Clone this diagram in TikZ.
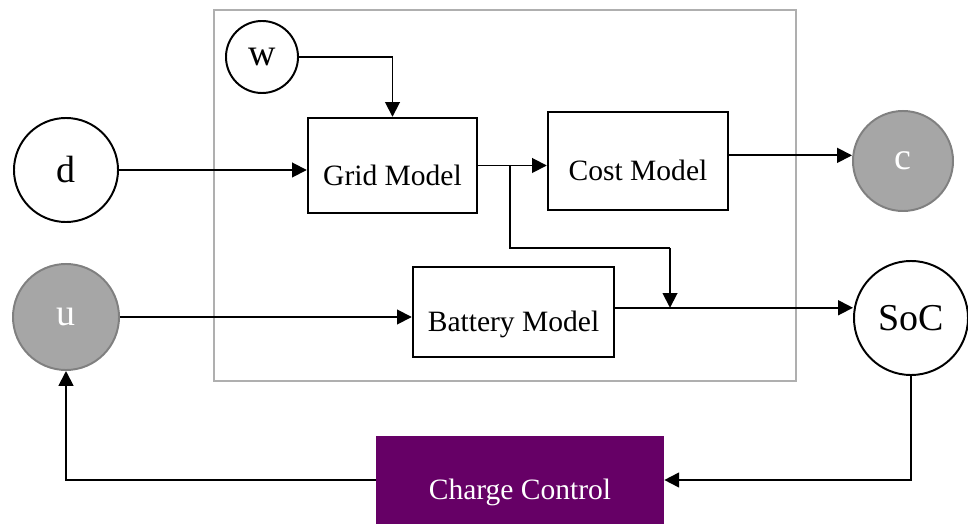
\documentclass[tikz,border=0pt]{standalone}
\usepackage{fontspec}
\setmainfont{Liberation Serif}
\usetikzlibrary{positioning, arrows.meta}
\definecolor{plum}{HTML}{660066}
\definecolor{shade}{HTML}{A6A6A6}
\definecolor{rim}{HTML}{808080}
\definecolor{framegray}{HTML}{AFAFAF}
\tikzset{
  model/.style={
    draw, rectangle, line width=1.7pt, fill=white,
    font=\fontsize{21}{24}\selectfont, align=center,
    text height=28pt, text depth=0pt
  },
  ctrl/.style={
    rectangle, fill=plum, text=white,
    font=\fontsize{21}{24}\selectfont, align=center,
    text height=28pt, text depth=0pt
  },
  var/.style={
    draw, circle, line width=1.4pt, fill=white,
    inner sep=0pt, font=\fontsize{27}{30}\selectfont
  },
  obs/.style={var, fill=shade, draw=rim, text=white},
  sig/.style={-{Triangle[length=10.5pt, width=10.5pt]}, line width=1.3pt},
  wire/.style={line width=1.3pt},
}

\begin{document}
\begin{tikzpicture}[x=0.025cm, y=-0.025cm]
    \useasboundingbox (0,0) rectangle (968,524);
    % system frame
    \draw[framegray, line width=1.7pt] (214,10) rectangle (796,381);
    % models
    \node[model, minimum width=4.225cm, minimum height=2.375cm] (grid)    at (392.5,165.5) {Grid Model};
    \node[model, minimum width=4.5cm,   minimum height=2.45cm]  (cost)    at (638,161)     {Cost Model};
    \node[model, minimum width=5.025cm, minimum height=2.25cm]  (battery) at (513.5,312)   {Battery Model};
    \node[ctrl,  minimum width=7.2cm,   minimum height=2.2cm]   (charge)  at (520,480)     {Charge Control};
    % variables
    \node[var, minimum size=1.8cm]  (w)   at (262,57)  {w};
    \node[var, minimum size=2.6cm]  (d)   at (66,170)  {d};
    \node[obs, minimum size=2.65cm] (u)   at (66,317)  {u};
    \node[obs, minimum size=2.5cm]  (c)   at (903,161) {c};
    \node[var, minimum size=2.85cm] (soc) at (911,318) {SoC};
    % junctions
    \coordinate (split) at (510,166);
    \coordinate (bend)  at (670,248);
    \coordinate (out)   at ([yshift=3pt]battery.east);
    \coordinate (join)  at (out -| bend);
    % signals
    \draw[sig] (w.east) -| (grid.north);
    \draw[sig] (d.east) -- (d.east -| grid.west);
    \draw[sig] (grid.east) -- (grid.east -| cost.west);
    \draw[wire] (split) |- (bend);
    \draw[sig] (bend) -- (join);
    \draw[sig] ([yshift=4pt]cost.east) -- ([yshift=4pt]cost.east -| c.west);
    \draw[sig] (u.east) -- (u.east -| battery.west);
    \draw[sig] (out) -- (out -| soc.west);
    \draw[sig] (soc.south) |- (charge.east);
    \draw[sig] (charge.west) -| (u.south);
  \end{tikzpicture}
\end{document}
